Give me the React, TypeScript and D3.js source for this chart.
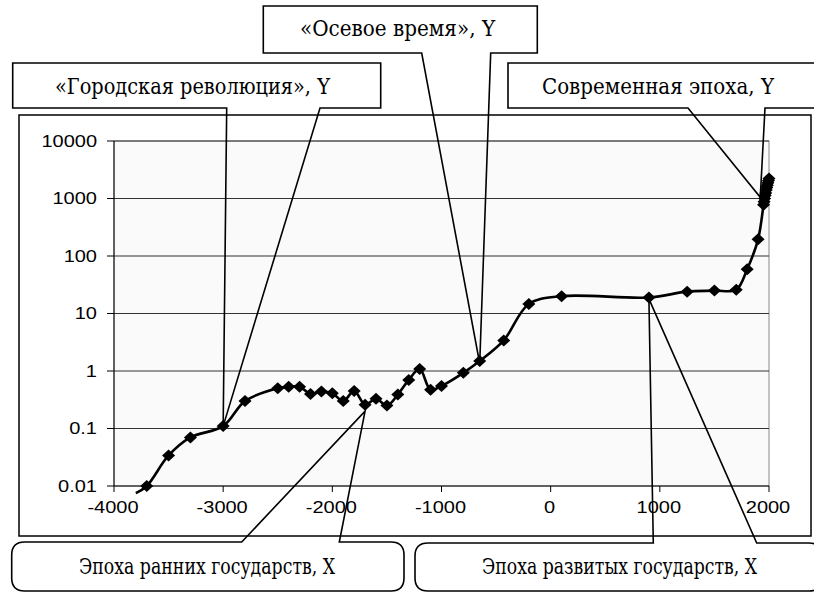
import React, { useLayoutEffect, useRef, useState } from "react";
import * as d3 from "d3";

// years (X) and values (Y, log scale)
const years = [
  -3800, -3700, -3500, -3300, -3000, -2800, -2500, -2400, -2300, -2200, -2100,
  -2000, -1900, -1800, -1700, -1600, -1500, -1400, -1300, -1200, -1100, -1000,
  -800, -650, -430, -200, 100, 900, 1250, 1500, 1700, 1800, 1900, 1950, 1955,
  1960, 1965, 1970, 1975, 1980, 1985, 1990, 1995, 2000,
];
const values = [
  0.0075, 0.01, 0.034, 0.07, 0.11, 0.3, 0.5, 0.53, 0.53, 0.4, 0.44, 0.41, 0.3,
  0.45, 0.26, 0.33, 0.25, 0.39, 0.7, 1.08, 0.47, 0.55, 0.93, 1.49, 3.4, 14.6,
  20, 19, 24, 25, 26, 59, 195, 780, 880, 1000, 1130, 1250, 1400, 1560, 1700,
  1870, 2050, 2230,
];

const xTicks = [-4000, -3000, -2000, -1000, 0, 1000, 2000];
const yTicks = [0.01, 0.1, 1, 10, 100, 1000, 10000];
const yTickLabels = ["0.01", "0.1", "1", "10", "100", "1000", "10000"];

// callout labels and the (year, value) they point to
const topLabels = ["«Городская революция», Y", "«Осевое время», Y", "Современная эпоха, Y"];
const topAnchors: [number, number][] = [[-3000, 0.11], [-650, 1.35], [1920, 1050]];
const bottomLabels = ["Эпоха ранних государств, X", "Эпоха развитых государств, X"];
const bottomAnchors: [number, number][] = [[-1700, 0.2], [900, 18]];

const sansFont = "'Liberation Sans', Arial, sans-serif";
const serifFont = "'DejaVu Serif', serif";

// squeezes a label horizontally so it spans `width` px
const FitText: React.FC<{ x: number; y: number; width: number; children: string }> = ({
  x,
  y,
  width,
  children,
}) => {
  const ref = useRef<SVGTextElement | null>(null);
  const [sx, setSx] = useState(0.7);
  useLayoutEffect(() => {
    if (!ref.current) return;
    const w = ref.current.getComputedTextLength();
    if (w > 0) setSx(width / w);
  }, [width, children]);
  return (
    <text ref={ref} transform={`translate(${x},${y}) scale(${sx},1)`}>
      {children}
    </text>
  );
};

const App: React.FC = () => {
  const plot = { left: 114, right: 769, top: 141, bottom: 486 };

  const x = d3.scaleLinear().domain([-4000, 2000]).range([plot.left, plot.right]);
  const y = d3.scaleLog().domain([0.01, 10000]).range([plot.bottom, plot.top]);

  const pts: [number, number][] = years.map((yr, i) => [x(yr), y(values[i])]);
  const line = d3
    .line<[number, number]>()
    .x((d) => d[0])
    .y((d) => d[1])
    .curve(d3.curveCatmullRom.alpha(0.5));

  const tip = (a: [number, number]) => `${x(a[0])},${y(a[1])}`;

  // square callout: box with a wedge on the bottom edge
  const boxCallout = (
    L: number, R: number, T: number, B: number,
    w1: number, w2: number, a: [number, number],
  ) => `M${L},${T}H${R}V${B}H${w2}L${tip(a)}L${w1},${B}H${L}Z`;

  // rounded callout: wedge on the top edge
  const roundCallout = (
    L: number, R: number, T: number, B: number,
    w1: number, w2: number, a: [number, number],
  ) => {
    const rx = 13, ry = 13;
    return (
      `M${L + rx},${T}H${w1}L${tip(a)}L${w2},${T}H${R - rx}` +
      `Q${R},${T} ${R},${T + ry}V${B - ry}Q${R},${B} ${R - rx},${B}` +
      `H${L + rx}Q${L},${B} ${L},${B - ry}V${T + ry}Q${L},${T} ${L + rx},${T}Z`
    );
  };

  const diamond = "M0,-6L6.5,0L0,6L-6.5,0Z";

  return (
    <svg
      width={814}
      height={593}
      style={{ position: "absolute", left: 0, top: 0, background: "#fff" }}
    >
      {/* chart area border */}
      <rect x={19} y={115} width={792} height={421} fill="#fff" stroke="#000" strokeWidth={1.5} />

      {/* plot area */}
      <rect
        x={plot.left}
        y={plot.top}
        width={plot.right - plot.left}
        height={plot.bottom - plot.top}
        fill="#fafafa"
        stroke="#888"
        strokeWidth={1}
      />
      {yTicks.slice(1).map((t) => (
        <line key={t} x1={plot.left} x2={plot.right} y1={y(t)} y2={y(t)} stroke="#333" strokeWidth={1} />
      ))}

      {/* axes */}
      <line x1={plot.left} x2={plot.left} y1={plot.top} y2={plot.bottom} stroke="#000" strokeWidth={1} />
      <line x1={plot.left} x2={plot.right} y1={plot.bottom} y2={plot.bottom} stroke="#000" strokeWidth={1} />
      {yTicks.map((t, i) => (
        <g key={t}>
          <line x1={plot.left - 7} x2={plot.left} y1={y(t)} y2={y(t)} stroke="#000" />
          <text
            transform={`translate(97,${y(t) + 5.8}) scale(1.25,1)`}
            textAnchor="end"
            fontFamily={sansFont}
            fontSize={16}
          >
            {yTickLabels[i]}
          </text>
        </g>
      ))}
      {xTicks.map((t) => (
        <g key={t}>
          <line x1={x(t)} x2={x(t)} y1={plot.bottom} y2={plot.bottom + 6} stroke="#000" />
          <text
            transform={`translate(${x(t) - 1},513) scale(1.25,1)`}
            textAnchor="middle"
            fontFamily={sansFont}
            fontSize={16}
          >
            {t}
          </text>
        </g>
      ))}

      {/* series */}
      <path d={line(pts) ?? ""} fill="none" stroke="#000" strokeWidth={2.6} />
      {pts
        .filter((_, i) => values[i] >= 0.01)
        .map((p, i) => (
          <path key={i} d={diamond} transform={`translate(${p[0]},${p[1]})`} fill="#000" />
        ))}

      {/* callouts */}
      <g fill="none" stroke="#000" strokeWidth={1.6}>
        <path d={boxCallout(12.7, 380.7, 63, 108, 226.7, 320, topAnchors[0])} />
        <path d={boxCallout(263.3, 537.3, 6, 53, 421.7, 490.7, topAnchors[1])} />
        <path d={boxCallout(508, 830, 63, 108, 688, 765, topAnchors[2])} />
        <path d={roundCallout(11.7, 404, 542, 591, 241.7, 339.3, bottomAnchors[0])} />
        <path d={roundCallout(415, 822, 543, 591, 653.3, 756.7, bottomAnchors[1])} />
      </g>

      <g fontFamily={serifFont} fontSize={22.5} fill="#000">
        <FitText x={55} y={94} width={275}>{topLabels[0]}</FitText>
        <FitText x={300} y={35.5} width={195}>{topLabels[1]}</FitText>
        <FitText x={542} y={94} width={232}>{topLabels[2]}</FitText>
        <FitText x={79} y={574} width={256}>{bottomLabels[0]}</FitText>
        <FitText x={482} y={574} width={275}>{bottomLabels[1]}</FitText>
      </g>
    </svg>
  );
};

export default App;
